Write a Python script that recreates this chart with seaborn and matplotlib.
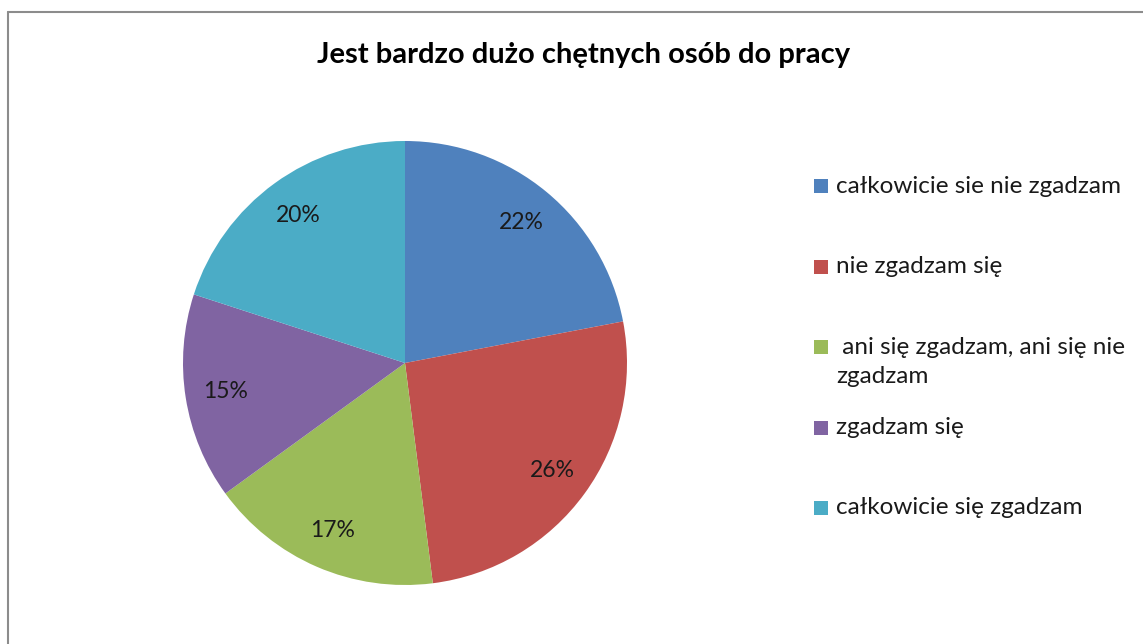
import matplotlib
matplotlib.use("Agg")
import matplotlib.pyplot as plt
from matplotlib.patches import Rectangle
from matplotlib.lines import Line2D
import seaborn as sns

sns.set_theme(style="white")
plt.rcParams['font.family'] = ['Lato', 'DejaVu Sans']

title = "Jest bardzo dużo chętnych osób do pracy"
categories = ["całkowicie sie nie zgadzam", "nie zgadzam się",
              " ani się zgadzam, ani się nie\nzgadzam", "zgadzam się",
              "całkowicie się zgadzam"]
values = [22, 26, 17, 15, 20]
colors = ["#4F81BD", "#C0504D", "#9BBB59", "#8064A2", "#4BACC6"]

W, H = 1143, 644
fig = plt.figure(figsize=(W / 100, H / 100), dpi=100)

# outer border (top and left edges visible)
fig.lines.append(Line2D([8 / W, 1.0], [1 - 12 / H, 1 - 12 / H], transform=fig.transFigure,
                        color="#8c8c8c", linewidth=1.5))
fig.lines.append(Line2D([8 / W, 8 / W], [0, 1 - 12 / H], transform=fig.transFigure,
                        color="#8c8c8c", linewidth=1.5))

cx, cy, r = 405, 363, 222
ax = fig.add_axes([(cx - r) / W, (H - cy - r) / H, 2 * r / W, 2 * r / H])
wedges, texts, autotexts = ax.pie(values, colors=colors, startangle=90, counterclock=False,
                                  autopct=lambda p: f"{p:.0f}%", pctdistance=0.82,
                                  radius=1.0, wedgeprops=dict(linewidth=0))
for t in autotexts:
    t.set_fontsize(16.5)
    t.set_color("#1a1a1a")
ax.set_xlim(-1, 1)
ax.set_ylim(-1, 1)
ax.set_aspect("equal")
ax.axis("off")

fig.text(584 / W, 1 - 55 / H, title, ha="center", va="center",
         fontsize=21, fontweight="bold", color="black")

# legend
for i, (lab, col) in enumerate(zip(categories, colors)):
    y = 186 + 80.5 * i
    fig.patches.append(Rectangle((814 / W, 1 - (y + 7) / H), 14 / W, 14 / H,
                                 transform=fig.transFigure, facecolor=col, edgecolor="none"))
    if "\n" in lab:
        fig.text(836 / W, 1 - (y - 10) / H, lab, ha="left", va="top",
                 fontsize=17.5, color="#1a1a1a", linespacing=1.45)
    else:
        fig.text(836 / W, 1 - y / H, lab, ha="left", va="center",
                 fontsize=17.5, color="#1a1a1a")

fig.savefig("out.png", dpi=100, facecolor="white")
